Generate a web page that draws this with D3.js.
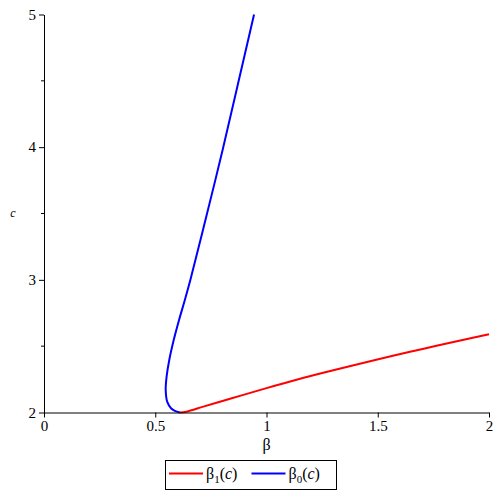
<!DOCTYPE html>
<meta charset="utf-8">
<script src="https://d3js.org/d3.v7.min.js"></script>
<style>
    body {margin: 0; background: #fff;}
    svg text {fill: #000;}
</style>
<body>
<svg width="498" height="498"></svg>
<script>
    // beta_1(c) branch (red) and beta_0(c) branch (blue): [beta, c]
    const beta1 = [[0.611,2.0],[0.64,2.006],[0.716,2.044],[0.806,2.089],[0.896,2.133],[1.0,2.184],
        [1.135,2.247],[1.3,2.318],[1.645,2.458],[2.0,2.59]];
    const beta0 = [[0.611,2.0],[0.588,2.012],[0.572,2.03],[0.554,2.08],[0.547,2.17],[0.551,2.27],
        [0.563,2.396],[0.583,2.546],[0.607,2.697],[0.633,2.848],[0.658,3.0],[0.718,3.40],
        [0.803,3.98],[0.875,4.5],[0.944,5.0]];
    const xTicks = [0, 0.5, 1, 1.5, 2];
    const xTickLabels = ["0", "0.5", "1", "1.5", "2"];
    const yTicks = [2, 3, 4, 5];
    const yMinor = [2.5, 3.5, 4.5];
    const series = [
        {name: "1", color: "#ff0000", data: beta1},
        {name: "0", color: "#0000ff", data: beta0}
    ];
    const FONT = "'Liberation Serif', 'Times New Roman', serif";

    var svg = d3.select("svg").style("font-family", FONT);
    var x = d3.scaleLinear().domain([0, 2]).range([44, 489]);
    var y = d3.scaleLinear().domain([2, 5]).range([412.5, 14.5]);

    // curves
    var line = d3.line()
        .x(function(d){return x(d[0]);})
        .y(function(d){return y(d[1]);})
        .curve(d3.curveCatmullRom);
    svg.append("g").selectAll("path")
        .data(series)
        .enter().append("path")
        .attr("d", function(d){return line(d.data);})
        .attr("fill", "none")
        .attr("stroke", function(d){return d.color;})
        .attr("stroke-width", 2);

    // x axis
    var xAxis = svg.append("g")
        .attr("transform", "translate(0," + y(2) + ")")
        .call(d3.axisBottom(x).tickValues(xTicks)
            .tickFormat(function(d, i){return xTickLabels[i];})
            .tickSizeInner(5).tickSizeOuter(0).tickPadding(3));
    // y axis
    var yAxis = svg.append("g")
        .attr("transform", "translate(" + x(0) + ",0)")
        .call(d3.axisLeft(y).tickValues(yTicks)
            .tickFormat(d3.format("d"))
            .tickSizeInner(5).tickSizeOuter(0).tickPadding(3));
    yAxis.selectAll(".minor")
        .data(yMinor)
        .enter().append("line")
        .attr("class", "minor")
        .attr("x1", -3).attr("x2", 0)
        .attr("y1", function(d){return y(d);})
        .attr("y2", function(d){return y(d);})
        .attr("stroke", "#000");
    svg.selectAll("g").attr("font-family", null);
    svg.selectAll(".tick text")
        .style("font-family", FONT)
        .style("font-size", "15px")
        .attr("fill", "#000");
    svg.selectAll(".domain, .tick line").attr("stroke", "#000");

    // axis titles
    svg.append("text")
        .attr("x", x(1)).attr("y", 450)
        .attr("text-anchor", "middle")
        .style("font-family", FONT)
        .style("font-size", "16px")
        .text("β");
    svg.append("text")
        .attr("x", 13).attr("y", 217)
        .attr("text-anchor", "middle")
        .style("font-family", FONT)
        .style("font-size", "12px")
        .style("font-style", "italic")
        .text("c");

    // legend
    var legend = svg.append("g");
    legend.append("rect")
        .attr("x", 165.5).attr("y", 460.5)
        .attr("width", 171).attr("height", 29)
        .attr("fill", "#fff").attr("stroke", "#000");
    var item = legend.selectAll(".item")
        .data(series)
        .enter().append("g")
        .attr("class", "item")
        .attr("transform", function(d, i){return "translate(" + (169 + i * 82.5) + ",473.5)";});
    item.append("line")
        .attr("x1", 0).attr("x2", 34)
        .attr("stroke", function(d){return d.color;})
        .attr("stroke-width", 2);
    var lt = item.append("text")
        .attr("x", 37).attr("y", 5)
        .style("font-family", FONT)
        .style("font-size", "16px");
    lt.append("tspan").text("β");
    lt.append("tspan").attr("dy", 4).style("font-size", "11px").text(function(d){return d.name;});
    lt.append("tspan").attr("dy", -4).text("(");
    lt.append("tspan").style("font-style", "italic").text("c");
    lt.append("tspan").text(")");
</script>
</body>
